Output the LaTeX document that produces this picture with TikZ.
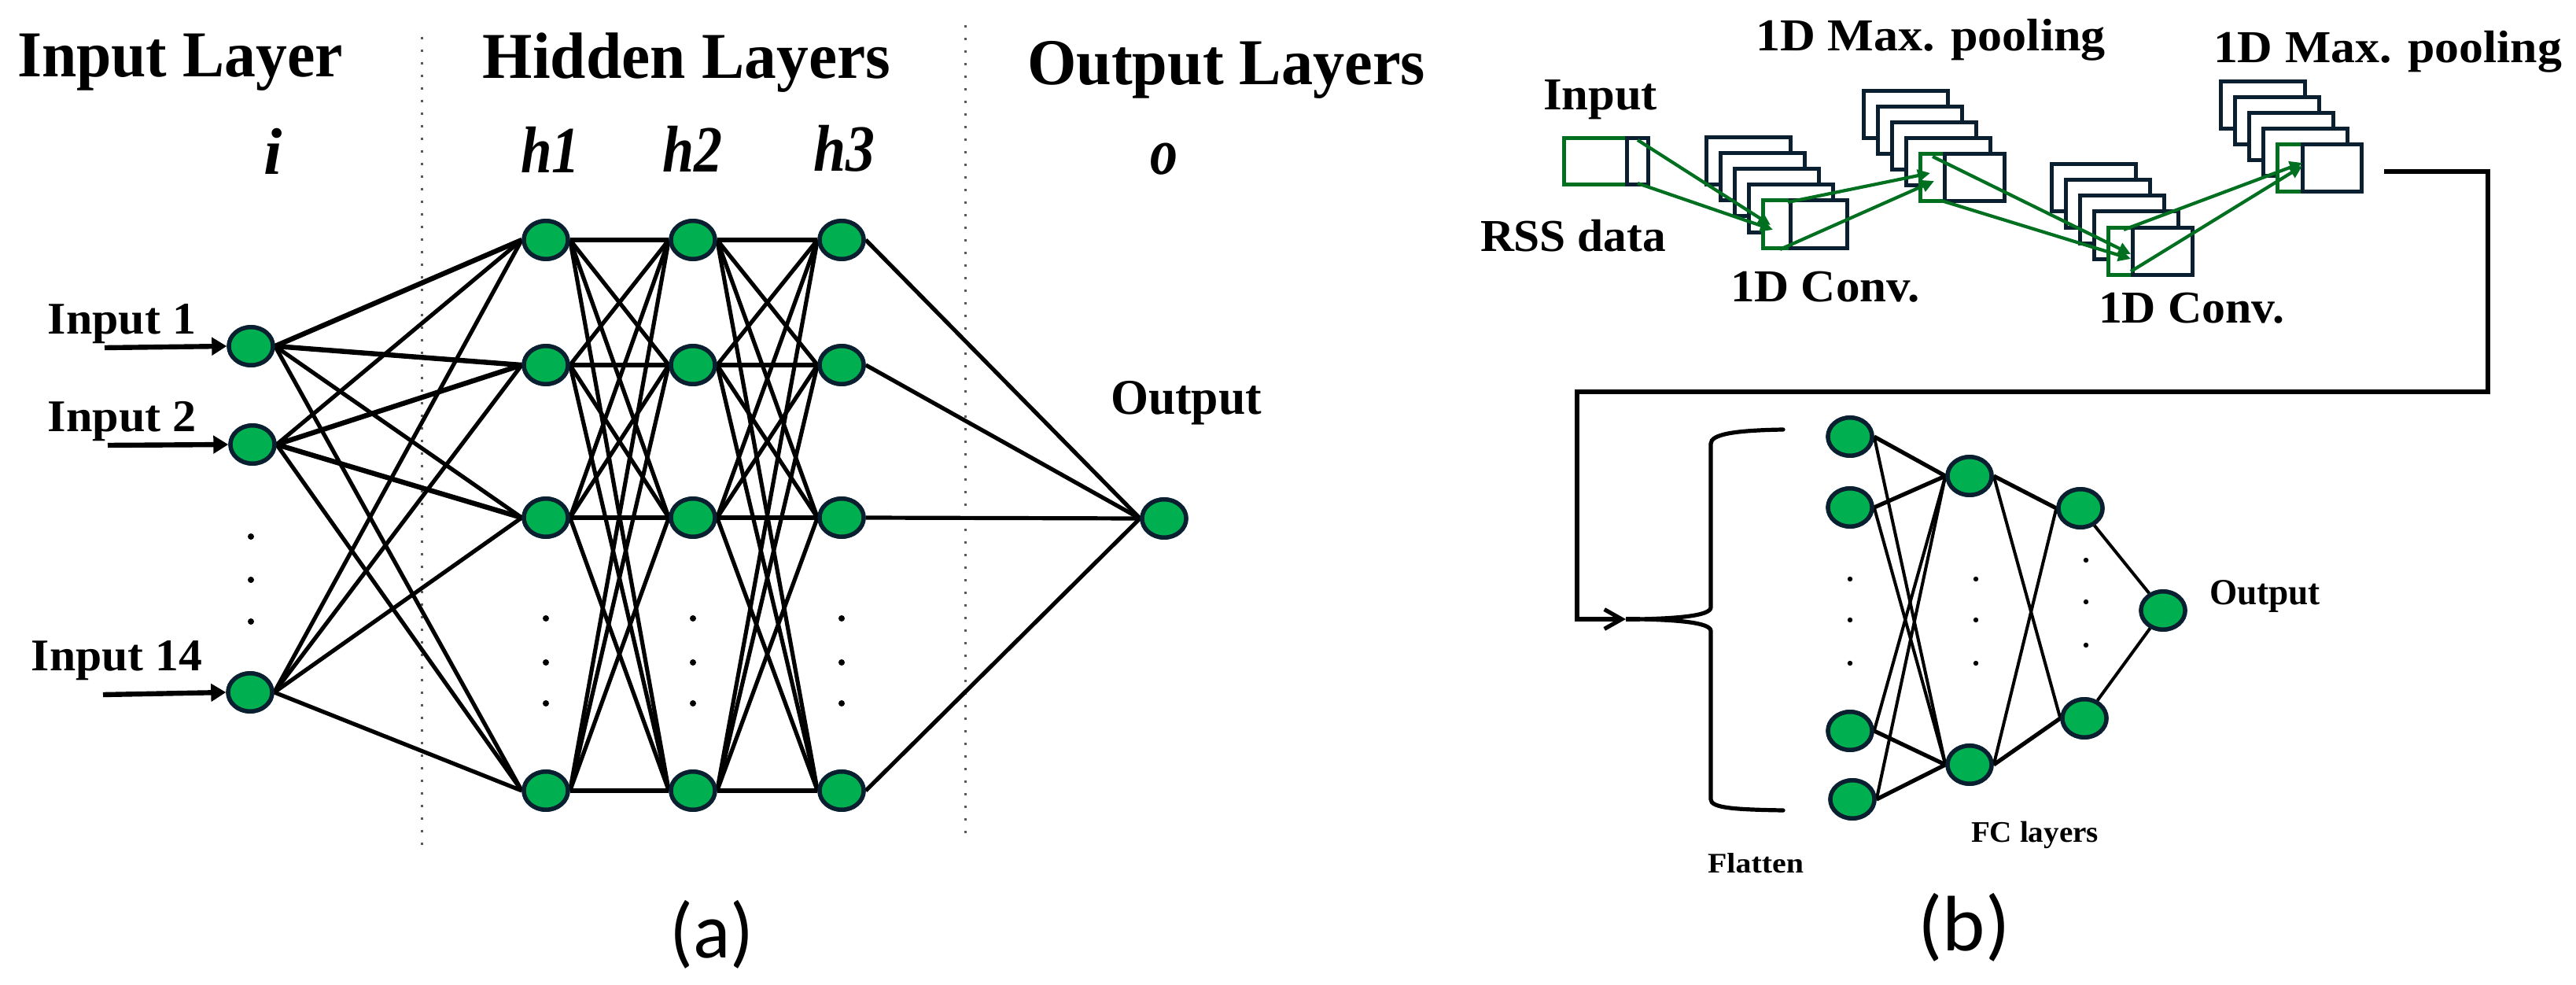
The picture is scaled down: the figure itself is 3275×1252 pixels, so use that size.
\documentclass[tikz,border=0pt]{standalone}
\usepackage{fontspec}
\setmainfont{Liberation Serif}
\newfontfamily\capfont{Carlito}
\usetikzlibrary{arrows.meta,shapes.geometric}
\definecolor{ngreen}{RGB}{0,176,80}
\definecolor{nedge}{RGB}{10,32,48}
\definecolor{agreen}{RGB}{0,112,32}
\newcommand\fw[2]{\resizebox{#1pt}{\height}{#2}}
\newcommand\fmstack[3]{%
  \foreach \k in {0,1,2,3}{\draw[rbox] ({#1+18*\k},{#2+20*\k}) rectangle ++(107,60);}
  \draw[gbox] ({#1+72},{#2+80}) rectangle ++(#3,60);
  \draw[rbox] ({#1+72+#3},{#2+80}) rectangle ({#1+179},{#2+140});
}
\begin{document}
\begin{tikzpicture}[x=0.25pt,y=-0.25pt,
  neu/.style={ellipse,draw=nedge,line width=1.35pt,fill=ngreen,minimum width=14pt,minimum height=12.1pt,inner sep=0pt},
  lbl/.style={inner sep=0pt,outer sep=0pt,anchor=base},
  hd/.style={lbl,font=\fontsize{20.8}{24}\selectfont\bfseries},
  ly/.style={lbl,font=\fontsize{21}{24}\selectfont\bfseries\itshape},
  inl/.style={lbl,font=\fontsize{14.4}{17}\selectfont\bfseries},
  bl/.style={lbl,font=\fontsize{14.5}{17}\selectfont\bfseries},
  sl/.style={lbl,font=\fontsize{9.5}{11}\selectfont\bfseries},
  capl/.style={lbl,font=\fontsize{25}{28}\selectfont\capfont},
  edge/.style={line width=1.3pt},
  tedge/.style={line width=1.6pt},
  inarr/.style={line width=1.6pt,-{Triangle[length=4.75pt,width=5.5pt]}},
  garr/.style={draw=agreen,line width=1.05pt,-{Triangle[length=4pt,width=3.8pt]}},
  sep/.style={draw=black!65,line width=0.75pt,dash pattern=on 0.75pt off 3.25pt},
  rbox/.style={draw=nedge,fill=white,line width=1.25pt},
  gbox/.style={draw=agreen,fill=white,line width=1.25pt},
  conn/.style={line width=1.3pt,line join=miter},
  fedge/.style={line width=1pt},
  fthick/.style={line width=1.3pt}]

\useasboundingbox (0,0) rectangle (3275,1252);
\fill[white] (0,0) rectangle (3275,1252);

% ---------------- (a) ----------------
\node[hd] (tin) at (229,98) {\fw{103.5}{Input Layer}};
\node[hd] (thid) at (873,100) {\fw{129.5}{Hidden Layers}};
\node[hd] (tout) at (1559,108) {\fw{126.5}{Output Layers}};
\node[ly] (li) at (347,222) {i};
\node[ly] (lh1) at (700,220) {\fw{18.75}{h1}};
\node[ly] (lh2) at (880,219) {\fw{19}{h2}};
\node[ly] (lh3) at (1073,218) {\fw{19.5}{h3}};
\node[ly] (lo) at (1480,222) {\fw{8.75}{o}};

\coordinate (sepAt) at (536,47);
\coordinate (sepAb) at (536,1083);
\coordinate (sepBt) at (1227,32);
\coordinate (sepBb) at (1227,1068);
\draw[sep] (sepAt) -- (sepAb);
\draw[sep] (sepBt) -- (sepBb);

\node[neu] (i1) at (319,440) {};
\node[neu] (i2) at (321,565) {};
\node[neu] (i14) at (318,880) {};
\foreach \c/\x in {1/694,2/881,3/1070}{
  \node[neu] (h\c a) at (\x,305) {};
  \node[neu] (h\c b) at (\x,464) {};
  \node[neu] (h\c c) at (\x,658) {};
  \node[neu] (h\c d) at (\x,1005) {};
}
\node[neu] (out) at (1480,659) {};

\foreach \a in {i1,i2,i14}{\foreach \b in {h1a,h1b,h1c,h1d}{\draw[edge] (\a.east) -- (\b.west);}}
\foreach \a in {a,b,c,d}{\foreach \b in {a,b,c,d}{
  \draw[edge] (h1\a.east) -- (h2\b.west);
  \draw[edge] (h2\a.east) -- (h3\b.west);}}
\foreach \a in {a,b,c,d}{\draw[edge] (h3\a.east) -- (out.west);}
\draw[tedge] (i1.east) -- (h1a.west);
\draw[tedge] (i1.east) -- (h1b.west);
\draw[tedge] (i2.east) -- (h1b.west);
\draw[tedge] (i2.east) -- (h1c.west);
\foreach \a in {a,b,c,d}{
  \draw[tedge] (h1\a.east) -- (h2\a.west);
  \draw[tedge] (h2\a.east) -- (h3\a.west);}
\foreach \a in {i1,i2,i14,h1a,h1b,h1c,h1d,h2a,h2b,h2c,h2d,h3a,h3b,h3c,h3d,out}{
  \node[neu] at (\a) {};}

\node[inl] (ti1) at (155,425) {\fw{47}{Input 1}};
\node[inl] (ti2) at (155.5,548) {\fw{47.25}{Input 2}};
\node[inl] (ti14) at (148.5,852) {\fw{54.25}{Input 14}};
\coordinate (s1) at (133,442);
\coordinate (s2) at (137,566);
\coordinate (s14) at (131,883);
\draw[inarr] (s1) -- (i1.west);
\draw[inarr] (s2) -- (i2.west);
\draw[inarr] (s14) -- (i14.west);

\foreach \y in {682,737,790}{\fill (319,\y) circle (4);}
\foreach \x in {694,881,1070}{\foreach \y in {786,842,894}{\fill (\x,\y) circle (4);}}

\node[lbl,font=\fontsize{15.9}{18}\selectfont\bfseries] (tout2) at (1508,526) {\fw{48}{Output}};
\node[capl] (capa) at (905,1217) {\fw{26.75}{(a)}};

% ---------------- (b) ----------------
\node[bl] (tpool1) at (2454.5,65) {\fw{111.25}{1D Max. pooling}};
\node[bl] (tpool2) at (3035.5,80) {\fw{110.75}{1D Max. pooling}};
\node[bl] (tinput) at (2034.5,140) {\fw{36.25}{Input}};
\node[bl] (trss) at (2000,320) {\fw{59}{RSS data}};
\node[bl] (tconv1) at (2320.5,383) {\fw{60.25}{1D Conv.}};
\node[bl] (tconv2) at (2786,410) {\fw{59}{1D Conv.}};

\draw[gbox] (1988,176) rectangle (2068,235);
\draw[rbox] (2068,176) rectangle (2095,235);
\fmstack{2169}{175}{35}
\fmstack{2369}{116}{31}
\fmstack{2608}{209}{31}
\fmstack{2823}{104}{32}

\coordinate (g1s) at (2082,178);  \coordinate (g1e) at (2251,286);
\coordinate (g2s) at (2082,233);  \coordinate (g2e) at (2254,292);
\coordinate (g3s) at (2273,257);  \coordinate (g3e) at (2454,220);
\coordinate (g4s) at (2263,317);  \coordinate (g4e) at (2459,230);
\coordinate (g5s) at (2457,199);  \coordinate (g5e) at (2709,323);
\coordinate (g6s) at (2468,255);  \coordinate (g6e) at (2709,329);
\coordinate (g7s) at (2700,292);  \coordinate (g7e) at (2927,207);
\coordinate (g8s) at (2709,345);  \coordinate (g8e) at (2927,211);
\foreach \n in {1,...,8}{\draw[garr] (g\n s) -- (g\n e);}

\coordinate (c0) at (3031,218);
\coordinate (c1) at (3163,218);
\coordinate (c2) at (3163,498);
\coordinate (c3) at (2005,498);
\coordinate (c4) at (2005,787);
\coordinate (c5) at (2067,787);
\coordinate (btip) at (2085,787);
\draw[conn,-{Straight Barb[length=5.5pt,width=6.2pt]}] (c0) -- (c1) -- (c2) -- (c3) -- (c4) -- (c5);
\draw[conn] (c5) -- (btip);
\draw[conn,line cap=round] (2267,546) .. controls (2205,547) and (2175,552) .. (2175,564)
  -- (2175,772) .. controls (2175,783) and (2130,786) .. (btip)
  .. controls (2130,788) and (2175,791) .. (2175,802)
  -- (2175,1016) .. controls (2175,1027) and (2205,1029) .. (2267,1030);

\node[neu] (f1a) at (2352,555) {};
\node[neu] (f1b) at (2352,645) {};
\node[neu] (f1c) at (2352,929) {};
\node[neu] (f1d) at (2355,1016) {};
\node[neu] (f2a) at (2504,605) {};
\node[neu] (f2b) at (2504,972) {};
\node[neu] (f3a) at (2645,646) {};
\node[neu] (f3b) at (2650,913) {};
\node[neu] (fo) at (2750,776) {};

\draw[fthick] (f1a.east) -- (f2a.west);
\draw[fedge] (f1a.east) -- (f2b.west);
\draw[fthick] (f1b.east) -- (f2a.west);
\draw[fedge] (f1b.east) -- (f2b.west);
\draw[fedge] (f1c.east) -- (f2a.west);
\draw[fthick] (f1c.east) -- (f2b.west);
\draw[fedge] (f1d.east) -- (f2a.west);
\draw[fthick] (f1d.east) -- (f2b.west);
\draw[fthick] (f2a.east) -- (f3a.west);
\draw[fedge] (f2a.east) -- (f3b.west);
\draw[fedge] (f2b.east) -- (f3a.west);
\draw[fthick] (f2b.east) -- (f3b.west);
\draw[fedge] (f3a) -- (fo);
\draw[fedge] (f3b) -- (fo);
\foreach \a in {f1a,f1b,f1c,f1d,f2a,f2b,f3a,f3b,fo}{\node[neu] at (\a) {};}

\foreach \y in {736,788,843}{\fill (2352,\y) circle (3.2); \fill (2512,\y) circle (3.2);}
\foreach \y in {712,765,820}{\fill (2652,\y) circle (3.2);}

\node[lbl,font=\fontsize{11.7}{14}\selectfont\bfseries] (toutb) at (2879.5,768) {\fw{35.25}{Output}};
\node[sl] (tfc) at (2587,1070) {\fw{40.5}{FC layers}};
\node[lbl,font=\fontsize{9}{11}\selectfont\bfseries] (tflat) at (2232,1109) {\fw{30.5}{Flatten}};
\node[capl] (capb) at (2497,1208) {\fw{29.25}{(b)}};
\end{tikzpicture}
\end{document}
